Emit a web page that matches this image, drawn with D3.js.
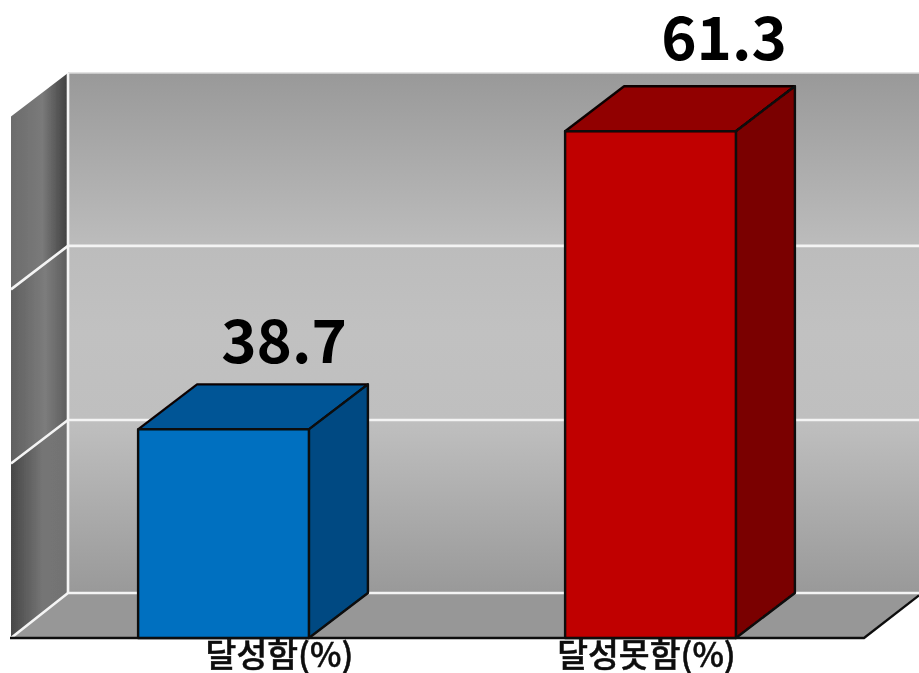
<!DOCTYPE html>
<html><head><meta charset="utf-8">
<style>html,body{margin:0;padding:0;background:#fff;overflow:hidden}</style>
<script src="https://cdn.jsdelivr.net/npm/d3@7/dist/d3.min.js"></script>
</head><body>
<svg id="c" width="919" height="673"></svg>
<script>
const categories = ["달성함(%)", "달성못함(%)"];
const values = [38.7, 61.3];
const gridValues = [22.89, 36.0, 49.2, 62.3];
const frontColors = ["#0070c0", "#c00000"];
const topColors = ["#005596", "#910000"];
const sideColors = ["#004a82", "#7a0000"];

const svg = d3.select("#c");
const depthX = 58, depthY = 45, baseY = 638, left = 10, right = 864;
const x = d3.scaleBand().domain(categories).range([left, right]).paddingInner(0.6).paddingOuter(0.3);
const y = d3.scaleLinear().domain([22.89, 62.3]).range([baseY, 118]);
const backY = v => y(v) - depthY;
const wallX = left + depthX;
const sideY = v => y(v) - 1.5;
const topV = gridValues[gridValues.length - 1], botV = gridValues[0];

const defs = svg.append("defs");
defs.append("filter").attr("id", "soft").attr("x", 0).attr("y", 0).attr("width", 1).attr("height", 1)
  .append("feGaussianBlur").attr("stdDeviation", 0.5);
const wall = defs.append("linearGradient").attr("id", "wall").attr("x1", 0).attr("x2", 0).attr("y1", 0).attr("y2", 1);
[[0, "#999"], [.33, "#bcbcbc"], [.5, "#c1c1c1"], [.67, "#bfbfbf"], [1, "#999"]].forEach(s => wall.append("stop").attr("offset", s[0]).attr("stop-color", s[1]));
// side wall shading differs per band (top band to bottom band)
const sideStops = [
  [[0, "#6c6c6c"], [.55, "#7a7a7a"], [1, "#3e3e3e"]],
  [[0, "#606060"], [.6, "#7c7c7c"], [1, "#5c5c5c"]],
  [[0, "#474747"], [.55, "#757575"], [1, "#727272"]]
];
sideStops.forEach((stops, i) => {
  const g = defs.append("linearGradient").attr("id", "side" + i).attr("x1", 0).attr("x2", 1).attr("y1", 0).attr("y2", 0);
  stops.forEach(s => g.append("stop").attr("offset", s[0]).attr("stop-color", s[1]));
});

const root = svg.append("g").attr("filter", "url(#soft)");
root.append("rect").attr("width", 919).attr("height", 673).attr("fill", "#fff");
const poly = (pts, fill, stroke, sw) => root.append("path").attr("d", "M" + pts.map(p => p.join(",")).join("L") + "Z")
  .attr("fill", fill).attr("stroke", stroke || "none").attr("stroke-width", sw || 0).attr("stroke-linejoin", "round");

// back wall, side wall, floor
poly([[wallX, backY(topV)], [919, backY(topV)], [919, backY(botV)], [wallX, backY(botV)]], "url(#wall)");
sideStops.forEach((s, i) => {
  const a = gridValues[gridValues.length - 1 - i], b = gridValues[gridValues.length - 2 - i];
  poly([[left + 1, sideY(a)], [wallX, backY(a)], [wallX, backY(b)], [left + 1, y(b)]], `url(#side${i})`);
});
poly([[left, baseY], [wallX, backY(botV)], [919, backY(botV)], [919, baseY - depthY * (919 - right) / depthX], [right, baseY]], "#979797");

// grid lines
root.append("g").selectAll("path").data(gridValues).join("path")
  .attr("d", v => `M${left + 1},${v === botV ? y(v) : sideY(v)}L${wallX},${backY(v)}L919,${backY(v)}`)
  .attr("fill", "none").attr("stroke", "#f4f4f4").attr("stroke-width", 2.6)
  .attr("stroke-opacity", (v, i) => i === gridValues.length - 1 ? 0 : 1);
root.append("line").attr("x1", wallX).attr("x2", 919).attr("y1", backY(topV)).attr("y2", backY(topV)).attr("stroke", "#d8d8d8").attr("stroke-width", 1.5);
root.append("line").attr("x1", wallX).attr("x2", wallX).attr("y1", backY(topV)).attr("y2", backY(botV)).attr("stroke", "#f4f4f4").attr("stroke-width", 2.6);

// baseline
root.append("path").attr("d", `M${left},${baseY}L${right},${baseY}L919,${baseY - depthY * (919 - right) / depthX}`)
  .attr("fill", "none").attr("stroke", "#111").attr("stroke-width", 2.4);

// bars
const bw = x.bandwidth();
categories.forEach((c, i) => {
  const x0 = x(c), x1 = x0 + bw, t = y(values[i]);
  poly([[x0, t], [x0 + depthX + 1, t - depthY], [x1 + depthX + 1, t - depthY], [x1, t]], topColors[i], "#0c0505", 2.4);
  poly([[x1, t], [x1 + depthX + 1, t - depthY], [x1 + depthX + 1, baseY - depthY], [x1, baseY]], sideColors[i], "#0a0a0a", 2.4);
  poly([[x0, t], [x1, t], [x1, baseY], [x0, baseY]], frontColors[i], "#0a0a0a", 2.4);
});

// value labels
const valueDx = [60.5, 73.5], valueBase = [363, 60];
root.append("g").selectAll("text").data(values).join("text")
  .attr("x", (d, i) => x(categories[i]) + bw / 2 + valueDx[i])
  .attr("y", (d, i) => valueBase[i])
  .attr("text-anchor", "middle")
  .attr("font-family", "'Noto Sans CJK KR','Noto Sans'").attr("font-weight", 700).attr("font-size", 60).attr("fill", "#050505")
  .text(d => d.toFixed(1));

// category labels
const catDx = [56, -4];
root.append("g").selectAll("text").data(categories).join("text")
  .attr("x", (d, i) => x(d) + bw / 2 + catDx[i])
  .attr("y", 667)
  .attr("text-anchor", "middle")
  .attr("font-family", "'Noto Sans CJK KR','Noto Sans'").attr("font-weight", 500).attr("font-size", 33.5)
  .attr("fill", "#0a0a0a").attr("stroke", "#0a0a0a").attr("stroke-width", 0.5)
  .text(d => d);
</script>
</body></html>
